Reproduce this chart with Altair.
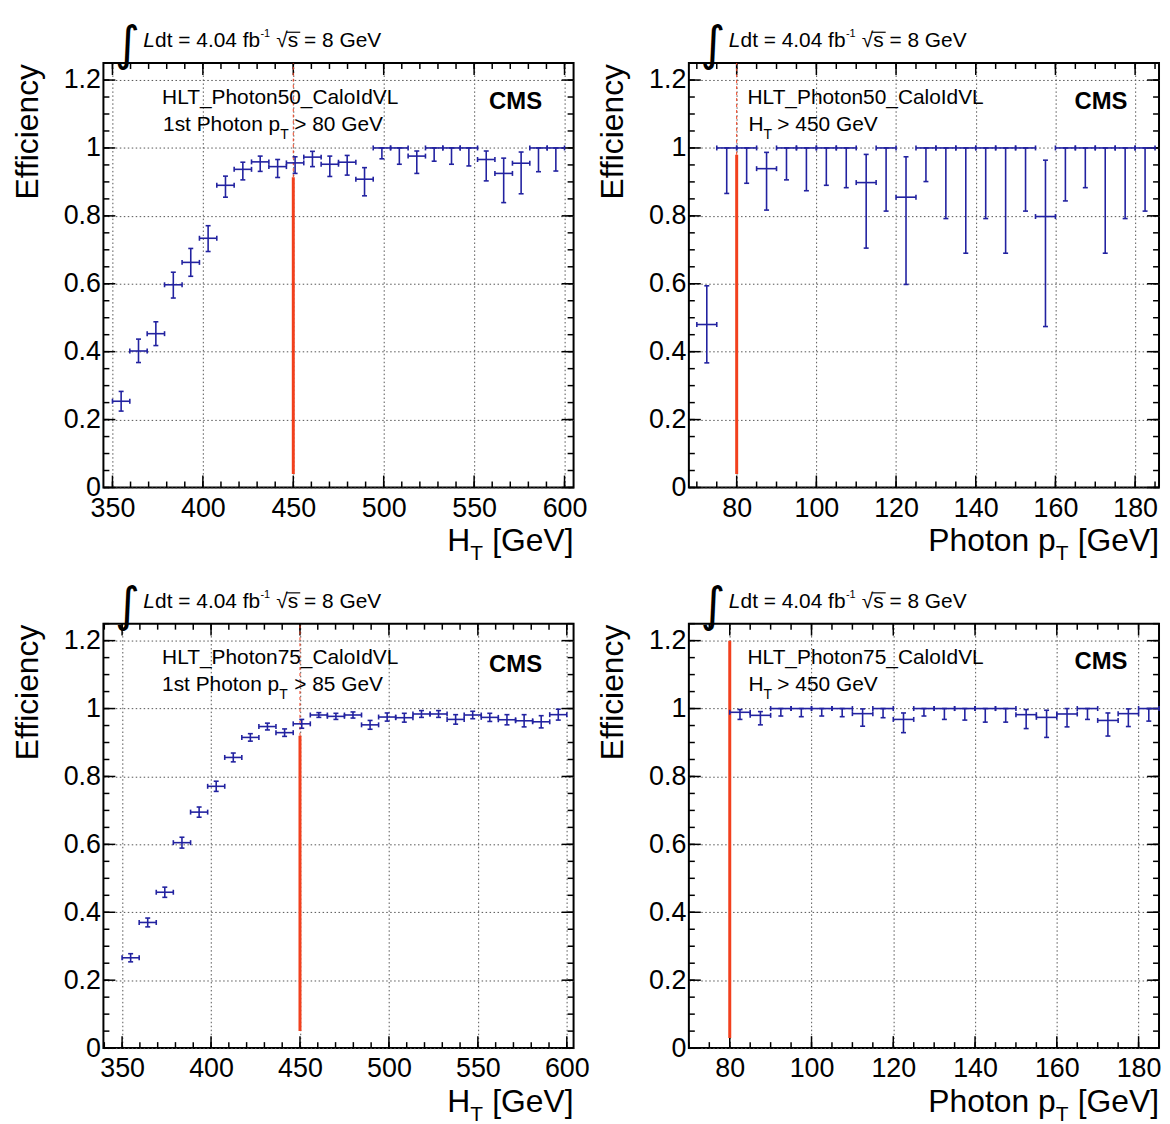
import altair as alt
import numpy as np
import pandas as pd

FONT = "Liberation Sans"
BLUE = "#2222a0"
RED = "#f2401d"

# ---------------- data ----------------
HT_BIN_EDGES = [350.0, 359.6, 369.2, 378.8, 388.5, 398.1, 407.7, 417.3, 426.9, 436.5,
                446.2, 455.8, 465.4, 475.0, 484.6, 494.2, 503.8, 513.5, 523.1, 532.7,
                542.3, 551.9, 561.5, 571.2, 580.8, 590.4, 600.0]
PT_BIN_EDGES_50 = [70, 75, 80, 85, 90, 95, 100, 105, 110, 115, 120, 125, 130, 135,
                   140, 145, 150, 155, 160, 165, 170, 175, 180, 185]
PT_BIN_EDGES_75 = [80, 85, 90, 95, 100, 105, 110, 115, 120, 125, 130, 135,
                   140, 145, 150, 155, 160, 165, 170, 175, 180, 185]

HT_TICKS = [350, 400, 450, 500, 550, 600]
PT_TICKS = [80, 100, 120, 140, 160, 180]
EFF_TICKS = [0, 0.2, 0.4, 0.6, 0.8, 1.0, 1.2]

# HLT_Photon50_CaloIdVL vs HT
EFF_P50_HT = [0.254, 0.402, 0.453, 0.597, 0.663, 0.734, 0.890, 0.937, 0.959, 0.945, 0.956, 0.973, 0.952,
              0.958, 0.908, 1.0, 1.0, 0.976, 1.0, 1.0, 1.0, 0.966, 0.925, 0.955, 1.0, 1.0]
LO_P50_HT = [0.225, 0.368, 0.418, 0.558, 0.622, 0.695, 0.855, 0.906, 0.931, 0.913, 0.925, 0.945, 0.916,
             0.920, 0.859, 0.968, 0.952, 0.925, 0.961, 0.952, 0.947, 0.903, 0.839, 0.865, 0.930, 0.932]
HI_P50_HT = [0.283, 0.437, 0.488, 0.634, 0.704, 0.771, 0.917, 0.958, 0.976, 0.966, 0.974, 0.990, 0.976,
             0.978, 0.942, 1.0, 1.0, 0.991, 1.0, 1.0, 1.0, 0.991, 0.970, 0.988, 1.0, 1.0]

# HLT_Photon50_CaloIdVL vs photon pT
EFF_P50_PT = [0.480, 1.0, 1.0, 0.939, 1.0, 1.0, 1.0, 1.0, 0.898, 1.0, 0.855, 1.0, 1.0, 1.0, 1.0, 1.0,
              1.0, 0.798, 1.0, 1.0, 1.0, 1.0, 1.0]
LO_P50_PT = [0.367, 0.866, 0.896, 0.817, 0.906, 0.874, 0.890, 0.883, 0.705, 0.814, 0.598, 0.901, 0.792,
             0.690, 0.792, 0.690, 0.814, 0.474, 0.844, 0.883, 0.690, 0.792, 0.814]
HI_P50_PT = [0.594, 1.0, 1.0, 0.987, 1.0, 1.0, 1.0, 1.0, 0.981, 1.0, 0.974, 1.0, 1.0, 1.0, 1.0, 1.0,
             1.0, 0.964, 1.0, 1.0, 1.0, 1.0, 1.0]

# HLT_Photon75_CaloIdVL vs HT
EFF_P75_HT = [0.266, 0.370, 0.459, 0.605, 0.695, 0.771, 0.856, 0.915, 0.947, 0.929, 0.955, 0.981, 0.977,
              0.981, 0.952, 0.975, 0.973, 0.984, 0.984, 0.968, 0.981, 0.974, 0.967, 0.964, 0.961, 0.982]
LO_P75_HT = [0.254, 0.357, 0.444, 0.589, 0.680, 0.756, 0.843, 0.904, 0.937, 0.918, 0.942, 0.974, 0.968,
             0.972, 0.939, 0.963, 0.960, 0.974, 0.974, 0.954, 0.970, 0.962, 0.952, 0.946, 0.943, 0.966]
HI_P75_HT = [0.278, 0.383, 0.474, 0.621, 0.710, 0.786, 0.869, 0.926, 0.957, 0.940, 0.968, 0.988, 0.986,
             0.990, 0.965, 0.987, 0.986, 0.994, 0.994, 0.982, 0.992, 0.986, 0.982, 0.982, 0.979, 0.998]

# HLT_Photon75_CaloIdVL vs photon pT
EFF_P75_PT = [0.989, 0.980, 1.0, 1.0, 1.0, 1.0, 0.985, 1.0, 0.968, 1.0, 1.0, 1.0, 1.0, 1.0, 0.982,
              0.974, 0.984, 1.0, 0.965, 0.985, 1.0]
LO_P75_PT = [0.968, 0.952, 0.978, 0.976, 0.978, 0.976, 0.948, 0.973, 0.929, 0.978, 0.968, 0.966, 0.960,
             0.960, 0.941, 0.915, 0.946, 0.968, 0.919, 0.947, 0.963]
HI_P75_PT = [0.997, 0.991, 1.0, 1.0, 1.0, 1.0, 0.999, 1.0, 0.987, 1.0, 1.0, 1.0, 1.0, 1.0, 0.997,
             0.995, 1.0, 1.0, 0.987, 0.999, 1.0]

HEADER_MAIN = "dt = 4.04 fb"
HEADER_SQRT = "\u221as = 8 GeV"

# ---------------- layout constants ----------------
W, H = 473, 427
YMAX = 1.25
ONE = pd.DataFrame({"k": [0]})


def text_layer(s, x, y, size=21, align="left", font=FONT, **kw):
    return alt.Chart(ONE).mark_text(
        text=s, fontSize=size, font=font, align=align, baseline="alphabetic",
        color="black", **kw
    ).encode(x=alt.value(x), y=alt.value(y))


def minor_ticks(lo, hi, step):
    start = np.ceil(lo / step) * step
    return [float(v) for v in np.arange(start, hi + 1e-9, step)]


def panel(edges, eff, lo, hi, xdom, xticks, xstep, cut, red_lo, red_hi, dashed,
          line1, line2, line2_x, xtitle_main, cms_y):
    xlo = edges[:-1]
    xhi = edges[1:]
    df = pd.DataFrame({
        "xlo": xlo, "xhi": xhi,
        "xc": [(a + b) / 2 for a, b in zip(xlo, xhi)],
        "eff": eff, "lo": lo, "hi": hi,
    })
    xs = alt.Scale(domain=xdom, nice=False, zero=False)
    ys = alt.Scale(domain=[0, YMAX], nice=False, zero=False)
    xaxis = alt.Axis(values=xticks, format="d", title=None, grid=True, ticks=False,
                     domain=False, labelPadding=8, labelFlush=False, labelOverlap=False)
    yaxis = alt.Axis(values=EFF_TICKS, format=".1~f", title=None, grid=True, ticks=False,
                     domain=False, labelPadding=3, labelFlush=False, labelOverlap=False)

    def X(f):
        return alt.X(f, type="quantitative", scale=xs, axis=xaxis)

    def Y(f):
        return alt.Y(f, type="quantitative", scale=ys, axis=yaxis)

    layers = []
    # inward ticks on all four sides
    for vals, L in ((xticks, 12), (minor_ticks(xdom[0], xdom[1], xstep), 6)):
        d = pd.DataFrame({"v": vals})
        layers.append(alt.Chart(d).mark_rule(color="black", strokeWidth=1.5)
                      .encode(x=X("v"), y=alt.value(H), y2=alt.value(H - L)))
        layers.append(alt.Chart(d).mark_rule(color="black", strokeWidth=1.5)
                      .encode(x=X("v"), y=alt.value(0), y2=alt.value(L)))
    for vals, L in ((EFF_TICKS, 12), (minor_ticks(0, YMAX, 0.05), 6)):
        d = pd.DataFrame({"v": vals})
        layers.append(alt.Chart(d).mark_rule(color="black", strokeWidth=1.5)
                      .encode(y=Y("v"), x=alt.value(0), x2=alt.value(L)))
        layers.append(alt.Chart(d).mark_rule(color="black", strokeWidth=1.5)
                      .encode(y=Y("v"), x=alt.value(W), x2=alt.value(W - L)))

    # red cut line
    if dashed:
        dd = pd.DataFrame({"x": [cut], "y": [red_hi], "y2": [YMAX]})
        layers.append(alt.Chart(dd).mark_rule(color=RED, strokeWidth=1, strokeDash=[3, 3])
                      .encode(x=X("x"), y=Y("y"), y2="y2"))
    rd = pd.DataFrame({"x": [cut], "y": [red_lo], "y2": [red_hi]})
    layers.append(alt.Chart(rd).mark_rule(color=RED, strokeWidth=3)
                  .encode(x=X("x"), y=Y("y"), y2="y2"))

    # error bars
    base = alt.Chart(df)
    sw = 1.6
    layers += [
        base.mark_rule(color=BLUE, strokeWidth=sw).encode(x=X("xlo"), x2="xhi", y=Y("eff")),
        base.mark_rule(color=BLUE, strokeWidth=sw).encode(x=X("xc"), y=Y("lo"), y2="hi"),
        base.mark_rule(color=BLUE, strokeWidth=sw, xOffset=-2.5, x2Offset=2.5)
            .encode(x=X("xc"), x2="xc", y=Y("lo")),
        base.mark_rule(color=BLUE, strokeWidth=sw, xOffset=-2.5, x2Offset=2.5)
            .encode(x=X("xc"), x2="xc", y=Y("hi")),
        base.mark_rule(color=BLUE, strokeWidth=sw, yOffset=-2.5, y2Offset=2.5)
            .encode(x=X("xlo"), y=Y("eff"), y2="eff"),
        base.mark_rule(color=BLUE, strokeWidth=sw, yOffset=-2.5, y2Offset=2.5)
            .encode(x=X("xhi"), y=Y("eff"), y2="eff"),
    ]

    # header: integral L dt = 4.04 fb^-1  sqrt(s) = 8 GeV
    layers += [
        text_layer("\u222b", 12, -3, size=48, font="DejaVu Sans"),
        text_layer("L", 40, -16, size=21, fontStyle="italic"),
        text_layer(HEADER_MAIN, 52, -16, size=21),
        text_layer("-1", 158, -26, size=11),
        text_layer(HEADER_SQRT, 174, -16, size=21),
        alt.Chart(ONE).mark_rule(color="black", strokeWidth=1.2)
            .encode(x=alt.value(184), x2=alt.value(198), y=alt.value(-31)),
    ]

    # legend text
    layers += [
        text_layer(line1, 59, 41, size=21),
        text_layer(line2[0], line2_x[0], 68, size=21),
        text_layer(line2[1], line2_x[1], 76, size=14),
        text_layer(line2[2], line2_x[2], 68, size=21),
        text_layer("CMS", 388, cms_y, size=24, fontWeight="bold"),
    ]

    # axis titles
    layers += [
        text_layer("Efficiency", -66, 1, size=32, align="right", angle=270),
        text_layer("[GeV]", W, H + 64, size=32, align="right"),
        text_layer("T", W - 91, H + 73, size=21, align="right"),
        text_layer(xtitle_main, W - 104, H + 64, size=32, align="right"),
    ]

    return alt.layer(*layers).properties(width=W, height=H)


p1 = panel(HT_BIN_EDGES, EFF_P50_HT, LO_P50_HT, HI_P50_HT, [345, 605], HT_TICKS, 10,
           450, 0.04, 0.914, True, "HLT_Photon50_CaloIdVL",
           ("1st Photon p", "T", "> 80 GeV"), (60, 178, 192), "H", 46)
p2 = panel(PT_BIN_EDGES_50, EFF_P50_PT, LO_P50_PT, HI_P50_PT, [68, 186], PT_TICKS, 5,
           80, 0.04, 0.98, True, "HLT_Photon50_CaloIdVL",
           ("H", "T", "> 450 GeV"), (60, 75, 89), "Photon p", 46)
p3 = panel(HT_BIN_EDGES, EFF_P75_HT, LO_P75_HT, HI_P75_HT, [339.5, 603.8], HT_TICKS, 10,
           450, 0.05, 0.92, True, "HLT_Photon75_CaloIdVL",
           ("1st Photon p", "T", "> 85 GeV"), (59, 177, 192), "H", 49)
p4 = panel(PT_BIN_EDGES_75, EFF_P75_PT, LO_P75_PT, HI_P75_PT, [70, 185], PT_TICKS, 5,
           80, 0.03, 1.2, False, "HLT_Photon75_CaloIdVL",
           ("H", "T", "> 450 GeV"), (60, 75, 89), "Photon p", 46)

chart = alt.concat(
    p1, p2, p3, p4, columns=2, bounds="flush",
    spacing={"row": 137, "column": 116},
).resolve_scale(x="independent", y="independent").properties(
    padding={"left": 3, "top": 10, "right": 0, "bottom": 0}
).configure_axis(
    labelFont=FONT, labelFontSize=27, labelColor="black",
    gridColor="#555555", gridDash=[1.5, 2.5], gridWidth=1, gridOpacity=1,
).configure_view(stroke="black", strokeWidth=2)

chart.save("out.html", embed_options={"renderer": "svg", "actions": False})
